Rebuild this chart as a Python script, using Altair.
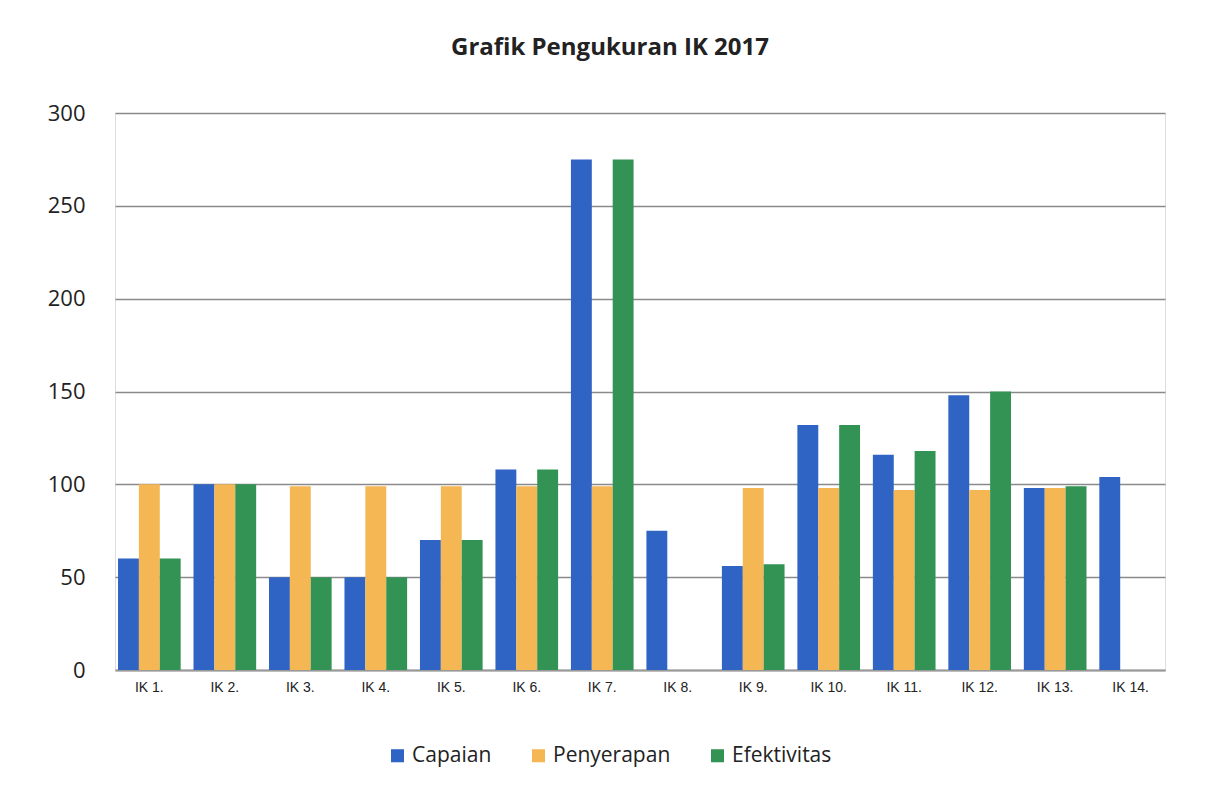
import altair as alt
import pandas as pd

categories = ["IK 1.", "IK 2.", "IK 3.", "IK 4.", "IK 5.", "IK 6.", "IK 7.",
              "IK 8.", "IK 9.", "IK 10.", "IK 11.", "IK 12.", "IK 13.", "IK 14."]
series = ["Capaian", "Penyerapan", "Efektivitas"]
capaian = [60, 100, 50, 50, 70, 108, 275, 75, 56, 132, 116, 148, 98, 104]
penyerapan = [100, 100, 99, 99, 99, 99, 99, 0, 98, 98, 97, 97, 98, 0]
efektivitas = [60, 100, 50, 50, 70, 108, 275, 0, 57, 132, 118, 150, 99, 0]
colors = ["#2f63c4", "#f5b654", "#339354"]
y_ticks = [0, 50, 100, 150, 200, 250, 300]

rows = []
for i, c in enumerate(categories):
    for s, vals in zip(series, [capaian, penyerapan, efektivitas]):
        rows.append({"IK": c, "series": s, "value": vals[i]})
df = pd.DataFrame(rows)

chart = alt.Chart(df).mark_bar(stroke=None).encode(
    x=alt.X("IK:N", sort=categories, title=None,
            scale=alt.Scale(paddingInner=0.17, paddingOuter=0.04),
            axis=alt.Axis(labelAngle=0, labelFont="Liberation Sans", labelFontSize=14,
                          labelColor="#222", labelPadding=10, ticks=False,
                          domainColor="#999", domainWidth=2, grid=False)),
    xOffset=alt.XOffset("series:N", sort=series),
    y=alt.Y("value:Q", title=None,
            scale=alt.Scale(domain=[0, 300], nice=False),
            axis=alt.Axis(values=y_ticks, labelFont="Open Sans", labelFontSize=22,
                          labelColor="#222", labelPadding=30, ticks=False, domain=False,
                          gridColor="#8a8a8a", gridWidth=1.5)),
    color=alt.Color("series:N", sort=series,
                    scale=alt.Scale(domain=series, range=colors),
                    legend=alt.Legend(title=None, orient="none", direction="horizontal",
                                      legendX=272, legendY=632, symbolType="square",
                                      symbolSize=170, symbolStrokeWidth=0,
                                      labelFont="Open Sans", labelFontSize=21,
                                      labelColor="#222", columnPadding=36,
                                      symbolOpacity=1)),
).properties(
    width=1050, height=557,
    title=alt.TitleParams("Grafik Pengukuran IK 2017", font="Open Sans", fontSize=24,
                          fontWeight="bold", color="#222", offset=42, anchor="middle",
                          dx=-30),
    padding={"left": 115, "top": 113, "right": 41, "bottom": 119},
    autosize=alt.AutoSizeParams(type="none"),
).configure_view(stroke=None).configure(background="white")

chart.save("out.html", embed_options={"renderer": "svg", "actions": False})
